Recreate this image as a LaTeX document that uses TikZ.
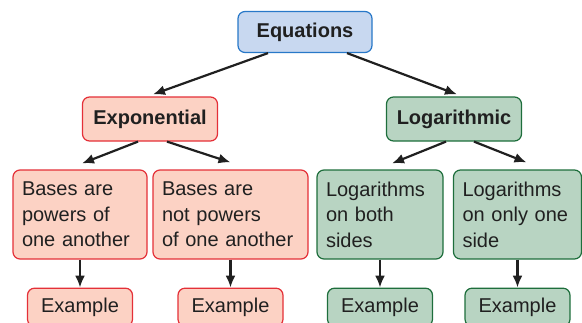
\documentclass[tikz,border=0pt]{standalone}
\usepackage{fontspec}
\setmainfont{Liberation Sans}
\usepackage{tikz}
\usetikzlibrary{arrows.meta,positioning}
\definecolor{blue2}{RGB}{40,120,200}
\definecolor{lightblue}{RGB}{200,216,240}
\definecolor{red2}{RGB}{228,48,56}
\definecolor{lightred}{RGB}{252,210,196}
\definecolor{green2}{RGB}{30,110,60}
\definecolor{lightgreen}{RGB}{184,212,194}
\definecolor{ink}{RGB}{32,32,32}
\tikzset{
  basebox/.style={rounded corners=7pt, line width=1.2pt, text=ink,
    font=\fontsize{20}{25.5}\selectfont},
  topbox/.style={basebox, draw=blue2, fill=lightblue,
    minimum width=134pt, minimum height=41pt, font=\fontsize{20}{25.5}\selectfont\bfseries},
  expbox/.style={basebox, draw=red2, fill=lightred,
    minimum width=135pt, minimum height=44pt, font=\fontsize{20}{25.5}\selectfont\bfseries},
  logbox/.style={basebox, draw=green2, fill=lightgreen,
    minimum width=135pt, minimum height=44pt, font=\fontsize{20}{25.5}\selectfont\bfseries},
  expcase/.style={basebox, draw=red2, fill=lightred, align=left,
    inner xsep=9pt, minimum height=89pt},
  logcase/.style={basebox, draw=green2, fill=lightgreen, align=left,
    inner xsep=9pt, minimum height=89pt},
  expex/.style={basebox, draw=red2, fill=lightred, minimum width=105pt, minimum height=38pt},
  logex/.style={basebox, draw=green2, fill=lightgreen, minimum width=105pt, minimum height=38pt},
  flow/.style={-{Latex[length=12pt,width=10pt]}, line width=2.2pt, draw=ink}
}
\begin{document}
\begin{tikzpicture}
\useasboundingbox (0,0) rectangle (582pt,-322pt);

\node[topbox] (equ) at (305pt,-32pt) {Equations};
\node[expbox] (expo) at (150pt,-119pt) {Exponential};
\node[logbox] (logar) at (454pt,-119pt) {Logarithmic};

\node[expcase, text width=116pt] (pow) at (80pt,-214.5pt) {Bases are\\powers of\\one another};
\node[expcase, text width=137pt] (notpow) at (230.5pt,-214.5pt) {Bases are\\not powers\\of one another};
\node[logcase, text width=108pt] (both) at (380pt,-214.5pt) {Logarithms\\on both\\sides};
\node[logcase, text width=110pt] (one) at (517.5pt,-214.5pt) {Logarithms\\on only one\\side};

\node[expex, below=28pt of pow.south] (powex) {Example};
\node[expex, below=28pt of notpow.south] (notpowex) {Example};
\node[logex, below=28pt of both.south] (bothex) {Example};
\node[logex, below=28pt of one.south] (oneex) {Example};

\draw[flow] ([xshift=-37pt]equ.south) -- ([xshift=3pt,yshift=2pt]expo.north);
\draw[flow] ([xshift=42pt]equ.south) -- ([xshift=3pt,yshift=2pt]logar.north);
\draw[flow] ([xshift=-12pt]expo.south) -- ([xshift=2pt,yshift=6pt]pow.north);
\draw[flow] ([xshift=17pt]expo.south) -- ([yshift=7pt]notpow.north);
\draw[flow] ([xshift=-8pt]logar.south) -- ([xshift=12pt,yshift=6pt]both.north);
\draw[flow] ([xshift=20pt]logar.south) -- ([xshift=9pt,yshift=7pt]one.north);

\draw[flow] (pow) -- (powex);
\draw[flow] (notpow) -- (notpowex);
\draw[flow] (both) -- (bothex);
\draw[flow] (one) -- (oneex);
\end{tikzpicture}
\end{document}
